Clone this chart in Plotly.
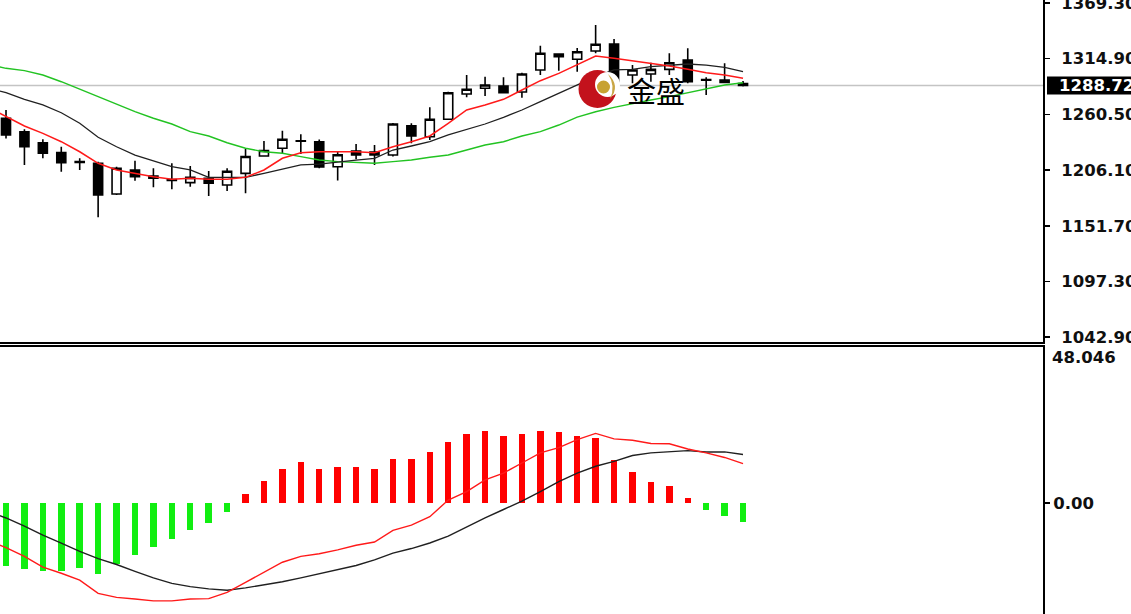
import plotly.graph_objects as go

# ---------------- data ----------------
bar_index = list(range(41))

opens = [1256.7, 1243.6, 1232.8, 1223.1, 1214.5, 1212.7, 1182.7, 1206.2, 1200.3, 1196.9,
         1193.8, 1198.1, 1191.5, 1202.9, 1219.8, 1227.4, 1234.2, 1233.8, 1209.4, 1224.7,
         1223.7, 1220.8, 1249.4, 1238.7, 1255.7, 1280.4, 1286.0, 1288.2, 1282.4, 1303.9,
         1319.5, 1314.3, 1322.4, 1329.3, 1299.0, 1299.9, 1304.5, 1313.6, 1294.6, 1294.1,
         1290.7]
highs = [1264.8, 1245.9, 1236.2, 1228.9, 1217.6, 1214.3, 1209.4, 1215.3, 1207.8, 1212.7,
         1210.1, 1205.2, 1207.8, 1227.2, 1234.5, 1244.6, 1241.0, 1236.0, 1224.7, 1231.6,
         1230.6, 1252.0, 1251.8, 1267.4, 1282.7, 1299.0, 1297.3, 1296.7, 1301.2, 1327.6,
         1320.2, 1325.3, 1347.8, 1334.1, 1308.7, 1311.0, 1320.2, 1325.1, 1296.7, 1310.4,
         1293.1]
lows = [1236.9, 1211.1, 1217.6, 1204.5, 1206.2, 1160.0, 1181.7, 1195.7, 1189.3, 1187.3,
        1189.9, 1180.8, 1185.7, 1183.4, 1219.3, 1222.5, 1221.8, 1207.8, 1195.9, 1216.6,
        1211.1, 1219.3, 1232.3, 1235.5, 1255.2, 1277.2, 1278.5, 1281.1, 1276.8, 1299.0,
        1303.2, 1302.2, 1320.2, 1290.9, 1290.9, 1292.4, 1299.0, 1290.9, 1279.4, 1291.4,
        1287.7]
closes = [1240.4, 1228.9, 1222.5, 1213.3, 1213.5, 1181.7, 1207.9, 1199.6, 1198.1, 1195.9,
          1199.0, 1193.2, 1204.9, 1219.4, 1225.2, 1236.2, 1234.8, 1209.1, 1221.1, 1220.8,
          1220.8, 1251.1, 1239.4, 1255.7, 1281.7, 1285.0, 1289.2, 1281.7, 1299.9, 1320.2,
          1316.8, 1321.7, 1329.0, 1292.4, 1303.9, 1304.5, 1311.0, 1292.4, 1293.8, 1291.8,
          1288.72]

# moving averages, starting one bar before the first visible candle
ma_index = list(range(-1, 41))
ma_fast = [1267.7, 1258.2, 1249.2, 1242.0, 1233.8, 1224.0, 1212.7, 1206.2, 1202.9, 1199.6,
           1197.1, 1198.1, 1197.1, 1197.1, 1199.0, 1206.2, 1217.6, 1223.1, 1224.0, 1224.0,
           1224.0, 1223.1, 1228.9, 1233.8, 1239.4, 1251.8, 1264.8, 1269.7, 1275.2, 1284.3,
           1293.4, 1300.6, 1308.7, 1317.5, 1315.3, 1312.9, 1310.4, 1307.8, 1304.5, 1301.2,
           1299.0, 1295.7]
ma_mid = [1286.3, 1281.7, 1275.2, 1269.7, 1262.1, 1251.8, 1238.1, 1228.9, 1220.8, 1215.3,
          1209.4, 1206.2, 1199.0, 1199.0, 1199.0, 1202.9, 1206.9, 1211.1, 1212.0, 1214.3,
          1215.9, 1217.6, 1225.7, 1229.6, 1233.8, 1240.4, 1245.9, 1251.1, 1257.6, 1264.8,
          1272.9, 1281.1, 1289.2, 1297.3, 1303.9, 1304.5, 1307.1, 1308.7, 1309.7, 1308.7,
          1306.5, 1302.2]
ma_slow = [1309.7, 1305.5, 1303.2, 1299.0, 1292.4, 1285.0, 1277.8, 1270.6, 1263.1, 1256.7,
           1251.1, 1243.6, 1239.4, 1232.8, 1227.4, 1224.0, 1222.5, 1219.2, 1215.9, 1214.3,
           1213.3, 1212.7, 1214.3, 1215.9, 1218.6, 1220.8, 1225.7, 1230.6, 1233.8, 1239.4,
           1243.6, 1250.1, 1257.9, 1263.1, 1267.4, 1271.3, 1274.5, 1277.8, 1281.7, 1286.0,
           1289.2, 1291.4]

# MACD panel
macd_hist = [-19.3, -20.3, -20.8, -20.8, -19.9, -21.7, -18.7, -16.1, -13.5, -11.1,
             -8.4, -6.1, -2.9, 2.7, 6.8, 10.5, 12.5, 10.5, 11.0, 11.0,
             10.5, 13.6, 13.6, 15.8, 18.9, 21.1, 22.0, 20.5, 21.1, 22.0,
             21.7, 20.5, 20.0, 13.3, 9.5, 6.4, 5.3, 1.5, -2.0, -4.0,
             -5.7]
macd_red = [-11.5, -13.7, -16.4, -19.7, -21.6, -23.7, -27.8, -29.0, -29.5, -30.1,
            -30.1, -29.5, -29.4, -27.5, -24.4, -21.3, -18.2, -16.4, -15.6, -14.4,
            -13.0, -12.0, -8.4, -6.8, -4.2, 0.9, 3.5, 7.1, 9.2, 12.3,
            15.4, 17.0, 19.5, 21.4, 19.7, 19.3, 18.3, 18.2, 16.6, 15.4,
            14.0, 12.1]
macd_black = [-2.5, -4.6, -7.1, -9.9, -12.3, -14.9, -17.1, -18.9, -21.0, -23.0,
              -24.7, -25.7, -26.4, -26.8, -26.1, -25.2, -24.2, -23.0, -21.8, -20.6,
              -19.2, -17.5, -15.4, -14.0, -12.3, -10.2, -7.3, -4.6, -2.0, 0.6,
              3.5, 6.6, 9.2, 11.3, 12.8, 14.6, 15.4, 15.7, 16.1, 15.7,
              15.7, 14.9]

price_ticks = [1042.90, 1097.30, 1151.70, 1206.10, 1260.50, 1314.90, 1369.30]
macd_max = 48.046
macd_ticks = [0.0]

logo_text = "金盛"

# ---------------- layout geometry ----------------
W, H = 1131, 614
PLOT_RIGHT = 1043          # px, right edge of the plot area (axis line)
TOP_BOTTOM = 341.7         # px, bottom border of price pane
LOW_TOP = 346.7            # px, top border of indicator pane
X_RANGE = [-0.326, 56.28]
PRICE_RANGE = [1038.44, 1372.23]
MACD_RANGE = [-34.12, macd_max]


def px_x(p):
    return p / W


def px_y(p):
    return 1 - p / H


TXT = "#101010"
FONT = "DejaVu Sans"
FSIZE = 16.5

fig = go.Figure()

# candles
fig.add_trace(go.Candlestick(
    x=bar_index, open=opens, high=highs, low=lows, close=closes,
    increasing=dict(line=dict(color="black", width=1.6), fillcolor="white"),
    decreasing=dict(line=dict(color="black", width=1.6), fillcolor="black"),
    whiskerwidth=0, xaxis="x", yaxis="y", hoverinfo="skip",
))

# moving averages
fig.add_trace(go.Scatter(x=ma_index, y=ma_slow, mode="lines",
                         line=dict(color="#22c322", width=1.4), xaxis="x", yaxis="y"))
fig.add_trace(go.Scatter(x=ma_index, y=ma_mid, mode="lines",
                         line=dict(color="#202020", width=1.3), xaxis="x", yaxis="y"))
fig.add_trace(go.Scatter(x=ma_index, y=ma_fast, mode="lines",
                         line=dict(color="#ff1a1a", width=1.5), xaxis="x", yaxis="y"))

# MACD histogram
hist_colors = ["#ff0000" if v >= 0 else "#11ee11" for v in macd_hist]
fig.add_trace(go.Bar(x=bar_index, y=macd_hist, width=0.35,
                     marker=dict(color=hist_colors, line=dict(width=0)),
                     xaxis="x2", yaxis="y2"))
fig.add_trace(go.Scatter(x=ma_index, y=macd_black, mode="lines",
                         line=dict(color="#202020", width=1.4), xaxis="x2", yaxis="y2"))
fig.add_trace(go.Scatter(x=ma_index, y=macd_red, mode="lines",
                         line=dict(color="#ff1a1a", width=1.4), xaxis="x2", yaxis="y2"))

last_close = closes[-1]

shapes = [
    # current price line
    dict(type="line", xref="paper", yref="y", x0=0, x1=px_x(PLOT_RIGHT),
         y0=last_close, y1=last_close, line=dict(color="#c4c4c4", width=1.5), layer="below"),
    # current price box on the axis
    dict(type="rect", xref="paper", yref="y", x0=px_x(1047), x1=1.0,
         ysizemode="pixel", yanchor=last_close, y0=-9, y1=9,
         fillcolor="black", line=dict(width=0)),
    # logo: red disc with a white cut-out opening to the right, gold ball
    dict(type="circle", xref="paper", yref="paper",
         x0=px_x(578.5), x1=px_x(616.5), y0=px_y(108), y1=px_y(70),
         fillcolor="#c3121c", line=dict(width=0), layer="above"),
    dict(type="circle", xref="paper", yref="paper",
         x0=px_x(595), x1=px_x(620), y0=px_y(97), y1=px_y(72),
         fillcolor="white", line=dict(width=0), layer="above"),
    dict(type="path", xref="paper", yref="paper",
         path=(f"M {px_x(608)} {px_y(74)} Q {px_x(621)} {px_y(86)} {px_x(610)} {px_y(99)} "
               f"Q {px_x(616)} {px_y(86)} {px_x(608)} {px_y(74)} Z"),
         fillcolor="#c9a646", line=dict(width=0), layer="above"),
    dict(type="circle", xref="paper", yref="paper",
         x0=px_x(597), x1=px_x(610), y0=px_y(93.5), y1=px_y(80.5),
         fillcolor="#c7a232", line=dict(width=0), layer="above"),
]

annotations = [
    dict(text=f"{last_close:.2f}", xref="paper", yref="y", x=px_x(1057), y=last_close,
         xanchor="left", yanchor="middle", showarrow=False,
         font=dict(family=FONT, size=FSIZE, color="white", weight="bold")),
    dict(text=f"{macd_max:.3f}", xref="paper", yref="paper", x=px_x(1050), y=px_y(357.7),
         xanchor="left", yanchor="middle", showarrow=False,
         font=dict(family=FONT, size=FSIZE, color=TXT, weight="bold")),
    dict(text=logo_text, xref="paper", yref="paper", x=px_x(656), y=px_y(90),
         xanchor="center", yanchor="middle", showarrow=False,
         font=dict(family="Noto Sans CJK SC", size=29, color="black")),
]

axis_common = dict(showgrid=False, zeroline=False, linecolor="black", linewidth=2,
                   showline=True, automargin=False)

fig.update_layout(
    width=W, height=H,
    margin=dict(l=0, r=0, t=0, b=0, autoexpand=False),
    paper_bgcolor="white", plot_bgcolor="white",
    showlegend=False,
    boxgap=0.3, boxgroupgap=0.3,
    bargap=0,
    xaxis=dict(domain=[0, px_x(PLOT_RIGHT)], range=X_RANGE, anchor="y",
               showticklabels=False, ticks="", rangeslider=dict(visible=False),
               side="bottom", **axis_common),
    yaxis=dict(domain=[px_y(TOP_BOTTOM), 1], range=PRICE_RANGE, anchor="x", side="right",
               tickvals=price_ticks, ticktext=[f"{v:.2f}" for v in price_ticks],
               ticks="outside", ticklen=5, tickwidth=1.5, tickcolor="black",
               ticklabelstandoff=8, ticklabeloverflow="allow",
               tickfont=dict(family=FONT, size=FSIZE, color=TXT, weight="bold"),
               **axis_common),
    xaxis2=dict(domain=[0, px_x(PLOT_RIGHT)], range=X_RANGE, anchor="y2",
                showticklabels=False, ticks="", side="top", **axis_common),
    yaxis2=dict(domain=[0, px_y(LOW_TOP)], range=MACD_RANGE, anchor="x2", side="right",
                tickvals=macd_ticks, ticktext=[f"{v:.2f}" for v in macd_ticks],
                ticks="outside", ticklen=5, tickwidth=1.5, tickcolor="black",
                ticklabelstandoff=0, ticklabeloverflow="allow",
                tickfont=dict(family=FONT, size=FSIZE, color=TXT, weight="bold"),
                **axis_common),
    shapes=shapes,
    annotations=annotations,
)

fig.write_html(
    "out.html",
    config={"displayModeBar": False, "staticPlot": True},
    post_script=(
        "document.documentElement.style.margin='0';"
        "document.documentElement.style.padding='0';"
        "document.body.style.margin='0';"
        "document.body.style.padding='0';"
    ),
)
